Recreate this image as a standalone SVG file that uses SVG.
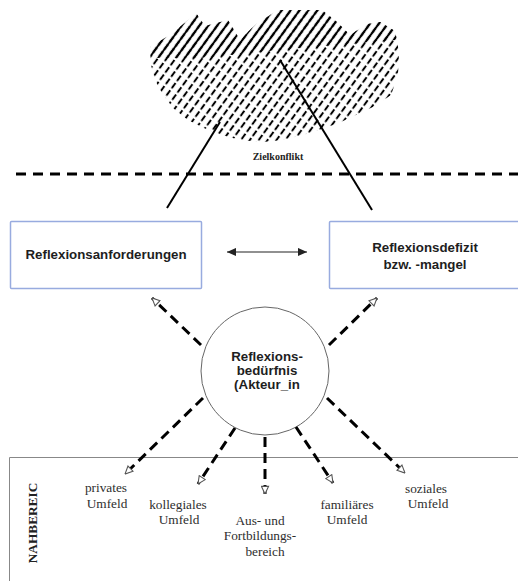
<svg xmlns="http://www.w3.org/2000/svg" width="518" height="581" viewBox="0 0 518 581">
<style>
.box{fill:#fff;stroke:#98abdf;stroke-width:1.5}
.bt{font-family:"Liberation Sans",Arial,sans-serif;font-weight:bold;font-size:13.3px;fill:#1e1e1e;text-anchor:middle}
.lbl{font-family:"Liberation Serif","Times New Roman",serif;font-size:13.3px;fill:#2e2e2e;text-anchor:middle}
.conn{fill:none;stroke:#000;stroke-width:3;stroke-dasharray:10 6}
.solid{fill:none;stroke:#000;stroke-width:2}
</style>
<defs>
<pattern id="hatchDash" patternUnits="userSpaceOnUse" width="7.2" height="9" patternTransform="rotate(36)">
<rect x="2.6" y="0" width="2" height="6.5" fill="#000"/>
</pattern>
<pattern id="hatchSolid" patternUnits="userSpaceOnUse" width="7.2" height="9" patternTransform="rotate(36)">
<rect x="2.6" y="0" width="2" height="9" fill="#000"/>
</pattern>
<marker id="open" viewBox="0 0 10 10" refX="9.5" refY="5" markerWidth="9" markerHeight="9" markerUnits="userSpaceOnUse" orient="auto">
<path d="M1,1 L9.5,5 L1,9 Z" fill="#fff" stroke="#555" stroke-width="1.2"/>
</marker>
<marker id="filled" viewBox="0 0 10 10" refX="10" refY="5" markerWidth="9" markerHeight="9" markerUnits="userSpaceOnUse" orient="auto-start-reverse">
<path d="M0,0.5 L10,5 L0,9.5 Z" fill="#222"/>
</marker>
</defs>
<rect width="518" height="581" fill="#fff"/>

<g id="zielkonflikt">
<path d="M150,47 L173,33 L196,13 L205,26 L228,20 L240,40 L256,24 L278,10 L322,10 L336,21 L350,35 L367,24 L380,22 L395,31 L399,52 L398,75 L391,95 L375,106 L358,114 L343,121 L323,129 L303,135 L283,140 L263,142 L240,140 L222,135 L206,129 L188,120 L173,108 L162,93 L155,80 L151,65 Z" fill="url(#hatchDash)"/>
<path d="M150,47 L173,33 L196,13 L205,26 L228,20 L240,40 L256,24 L278,10 L322,10 L336,21 L350,35 L367,24 L380,22 L395,31 L397,40 L300,48 L200,58 L151,58 Z" fill="url(#hatchSolid)"/>
<text x="278" y="160" font-family="Liberation Serif,'Times New Roman',serif" font-weight="bold" font-size="10" fill="#222" text-anchor="middle">Zielkonflikt</text>
</g>

<g id="divider">
<line x1="16" y1="174" x2="518" y2="174" stroke="#000" stroke-width="3" stroke-dasharray="10 7"/>
</g>

<g id="conflict-lines">
<line class="solid" x1="167" y1="208" x2="220" y2="122"/>
<line class="solid" x1="280" y1="60" x2="372" y2="210"/>
</g>

<g id="reflexionsanforderungen">
<rect class="box" x="10.5" y="221.5" width="191" height="67" rx="1"/>
<text class="bt" x="106" y="259">Reflexionsanforderungen</text>
</g>

<g id="reflexionsdefizit">
<rect class="box" x="329.5" y="221.5" width="200" height="67" rx="1"/>
<text class="bt" x="425" y="252">Reflexionsdefizit</text>
<text class="bt" x="425" y="269">bzw. -mangel</text>
</g>

<g id="reflexionsbeduerfnis">
<circle cx="265" cy="371" r="64" fill="#fff" stroke="#666" stroke-width="1"/>
<text class="bt" x="267" y="361">Reflexions-</text>
<text class="bt" x="267" y="375">bedürfnis</text>
<text class="bt" x="267" y="389">(Akteur_in</text>
</g>

<g id="nahbereich">
<path d="M518,457.5 L9.5,457.5 L9.5,581" fill="none" stroke="#888" stroke-width="1"/>
<text x="37" y="523" transform="rotate(-90 37 523)" font-family="Liberation Serif,'Times New Roman',serif" font-weight="bold" font-size="13.3" fill="#222" text-anchor="middle">NAHBEREIC</text>
</g>

<g id="privates">
<text class="lbl" x="106" y="492">privates</text>
<text class="lbl" x="107" y="508">Umfeld</text>
</g>
<g id="kollegiales">
<text class="lbl" x="178" y="509">kollegiales</text>
<text class="lbl" x="179" y="524">Umfeld</text>
</g>
<g id="ausbildung">
<text class="lbl" x="260" y="525">Aus- und</text>
<text class="lbl" x="260" y="540">Fortbildungs-</text>
<text class="lbl" x="265" y="556">bereich</text>
</g>
<g id="familiaeres">
<text class="lbl" x="347" y="509">familiäres</text>
<text class="lbl" x="347" y="524">Umfeld</text>
</g>
<g id="soziales">
<text class="lbl" x="426" y="493">soziales</text>
<text class="lbl" x="428" y="508">Umfeld</text>
</g>

<g id="connectors">
<line x1="227" y1="252" x2="307" y2="252" stroke="#222" stroke-width="1.2" marker-start="url(#filled)" marker-end="url(#filled)"/>
<line class="conn" x1="201" y1="345" x2="152" y2="298" marker-end="url(#open)"/>
<line class="conn" x1="329" y1="345" x2="377" y2="298" marker-end="url(#open)"/>
<line class="conn" x1="203" y1="398" x2="125" y2="474" marker-end="url(#open)"/>
<line class="conn" x1="235" y1="428" x2="198" y2="484" marker-end="url(#open)"/>
<line class="conn" x1="265" y1="437" x2="265" y2="494" marker-end="url(#open)"/>
<line class="conn" x1="296" y1="427" x2="333" y2="483" marker-end="url(#open)"/>
<line class="conn" x1="327" y1="398" x2="405" y2="473" marker-end="url(#open)"/>
</g>
</svg>
